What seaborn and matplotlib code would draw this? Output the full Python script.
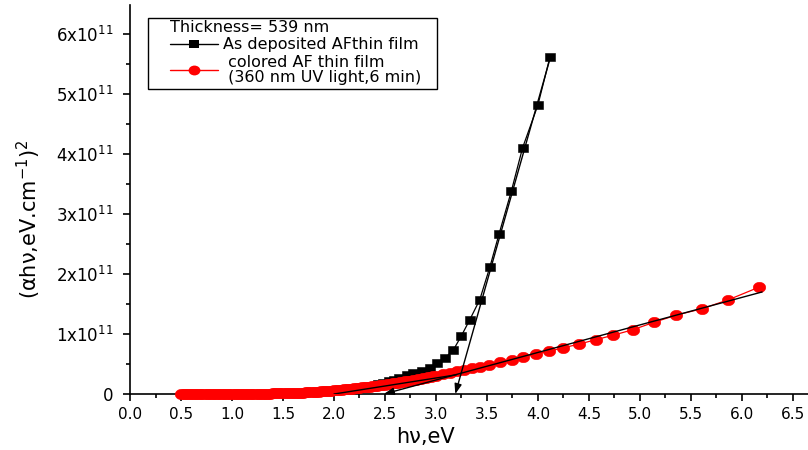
import matplotlib
matplotlib.use("Agg")
import matplotlib.pyplot as plt
from matplotlib.lines import Line2D
from matplotlib.patches import Rectangle
from matplotlib.path import Path
from matplotlib.transforms import Affine2D
from matplotlib.ticker import MultipleLocator, FuncFormatter
import seaborn as sns
import pandas as pd

# Photon energy (eV) and (alpha*h*nu)^2 in units of 1e11 (eV.cm^-1)^2
deposited_energy = [2.43, 2.48, 2.54, 2.59, 2.64, 2.72, 2.78, 2.86, 2.94, 3.01,
                    3.09, 3.17, 3.25, 3.33, 3.43, 3.53, 3.62, 3.74, 3.85, 4.00, 4.12]
deposited_value = [0.16, 0.18, 0.21, 0.23, 0.26, 0.31, 0.35, 0.38, 0.43, 0.52,
                   0.60, 0.73, 0.97, 1.23, 1.57, 2.12, 2.67, 3.38, 4.10, 4.81, 5.62]

colored_energy = [0.500, 0.525, 0.550, 0.575, 0.600, 0.625, 0.650, 0.675, 0.700, 0.725,
                  0.750, 0.775, 0.800, 0.825, 0.850, 0.875, 0.900, 0.925, 0.950, 0.975,
                  1.000, 1.025, 1.050, 1.075, 1.100, 1.125, 1.150, 1.175, 1.200, 1.225,
                  1.250, 1.275, 1.300, 1.325, 1.350, 1.375, 1.400, 1.425, 1.450, 1.475,
                  1.500, 1.525, 1.550, 1.575, 1.600, 1.625, 1.650, 1.675, 1.700, 1.725,
                  1.750, 1.775, 1.800, 1.825, 1.850, 1.875, 1.900, 1.925, 1.950, 1.975,
                  2.000, 2.025, 2.050, 2.075, 2.100, 2.125, 2.150, 2.175, 2.200, 2.225,
                  2.250, 2.275, 2.300, 2.325, 2.350, 2.375, 2.400, 2.425, 2.450, 2.475,
                  2.500, 2.525, 2.550, 2.575, 2.600, 2.625, 2.650, 2.675, 2.700, 2.725,
                  2.750, 2.775, 2.800, 2.825, 2.850, 2.875, 2.900, 2.925, 2.950, 2.975,
                  3.000, 3.07, 3.14, 3.21, 3.28, 3.35, 3.43, 3.52, 3.63, 3.75,
                  3.85, 3.98, 4.11, 4.25, 4.40, 4.57, 4.74, 4.93, 5.14, 5.36,
                  5.61, 5.87, 6.17]
colored_value = [0.000, 0.000, 0.000, 0.000, 0.000, 0.000, 0.000, 0.000, 0.000, 0.000,
                 0.000, 0.000, 0.000, 0.000, 0.000, 0.001, 0.001, 0.001, 0.001, 0.001,
                 0.001, 0.002, 0.002, 0.002, 0.002, 0.003, 0.003, 0.004, 0.004, 0.005,
                 0.005, 0.006, 0.006, 0.007, 0.007, 0.008, 0.009, 0.010, 0.011, 0.012,
                 0.013, 0.014, 0.015, 0.017, 0.018, 0.020, 0.021, 0.023, 0.025, 0.027,
                 0.029, 0.031, 0.034, 0.037, 0.040, 0.043, 0.046, 0.050, 0.053, 0.057,
                 0.060, 0.064, 0.068, 0.072, 0.076, 0.080, 0.085, 0.089, 0.094, 0.099,
                 0.104, 0.109, 0.114, 0.119, 0.124, 0.129, 0.135, 0.140, 0.146, 0.151,
                 0.157, 0.163, 0.170, 0.176, 0.182, 0.189, 0.196, 0.203, 0.210, 0.217,
                 0.225, 0.232, 0.240, 0.248, 0.256, 0.264, 0.272, 0.281, 0.290, 0.299,
                 0.308, 0.332, 0.356, 0.380, 0.404, 0.428, 0.452, 0.485, 0.525, 0.570,
                 0.615, 0.665, 0.715, 0.770, 0.830, 0.905, 0.980, 1.070, 1.195, 1.315,
                 1.420, 1.570, 1.780]

# Linear extrapolations to the energy axis (eV, 1e11 units)
deposited_fit_energy = [4.13, 3.19]
deposited_fit_value = [5.65, 0.0]
colored_fit_energy = [6.20, 2.49]
colored_fit_value = [1.70, 0.0]
onset_energy = [2.00, 3.20]
onset_value = [0.0, 0.32]

series_labels = ["As deposited AFthin film",
                 " colored AF thin film\n (360 nm UV light,6 min)"]
legend_title = "Thickness= 539 nm"

SCALE = 1e11

sns.set_theme(style="ticks")
plt.rcParams["font.family"] = ["DejaVu Sans"]
plt.rcParams["mathtext.fontset"] = "dejavusans"
plt.rcParams["axes.linewidth"] = 1.2
plt.rcParams["text.color"] = "black"
plt.rcParams["axes.labelcolor"] = "black"
plt.rcParams["xtick.color"] = "black"
plt.rcParams["ytick.color"] = "black"
plt.rcParams["axes.edgecolor"] = "black"

# slightly wide markers: flat rectangle and ellipse
rect_marker = Path([(-1.33, -1.0), (1.33, -1.0), (1.33, 1.0), (-1.33, 1.0), (-1.33, -1.0)],
                   [Path.MOVETO, Path.LINETO, Path.LINETO, Path.LINETO, Path.CLOSEPOLY])
oval_marker = Path.unit_circle().transformed(Affine2D().scale(1.2, 1.0))

fig = plt.figure(figsize=(8.08, 4.5), dpi=100)
ax = fig.add_axes([0.161, 0.1244, 0.839, 0.8646])

df_dep = pd.DataFrame({"E": deposited_energy,
                       "v": [v * SCALE for v in deposited_value]})
df_col = pd.DataFrame({"E": colored_energy,
                       "v": [v * SCALE for v in colored_value]})

sns.lineplot(data=df_dep, x="E", y="v", ax=ax, color="black", linewidth=0.9,
             marker=rect_marker, markersize=7.4, markeredgewidth=0.4,
             markeredgecolor="black", sort=False, clip_on=False, zorder=3)
sns.lineplot(data=df_col, x="E", y="v", ax=ax, color="red", linewidth=0.9,
             marker=oval_marker, markersize=9.0, markeredgewidth=0.4,
             markeredgecolor="red", sort=False, clip_on=False, zorder=4)

# fitted straight lines with arrow heads on the energy axis
for ex, ev in ((deposited_fit_energy, deposited_fit_value),
               (colored_fit_energy, colored_fit_value)):
    ax.annotate("", xy=(ex[1], ev[1] * SCALE), xytext=(ex[0], ev[0] * SCALE),
                arrowprops=dict(arrowstyle="-|>,head_length=0.5,head_width=0.18",
                                color="black", lw=1.0, shrinkA=0, shrinkB=0),
                zorder=6, annotation_clip=False)
ax.plot(onset_energy, [v * SCALE for v in onset_value], color="black",
        linewidth=1.0, zorder=5)

ax.set_xlim(0, 6.65)
ax.set_ylim(0, 6.48 * SCALE)
ax.xaxis.set_major_locator(MultipleLocator(0.5))
ax.xaxis.set_minor_locator(MultipleLocator(0.25))
ax.yaxis.set_major_locator(MultipleLocator(1 * SCALE))
ax.yaxis.set_minor_locator(MultipleLocator(0.5 * SCALE))
ax.xaxis.set_major_formatter(FuncFormatter(lambda v, p: f"{v:.1f}"))
ax.yaxis.set_major_formatter(FuncFormatter(
    lambda v, p: "0" if abs(v) < 1 else rf"{int(round(v / SCALE))}x10$^{{11}}$"))
ax.tick_params(axis="both", which="major", direction="out", length=5, width=1.2,
               colors="black")
ax.tick_params(axis="x", which="major", pad=4, labelsize=11)
ax.tick_params(axis="y", which="major", pad=7, labelsize=12)
ax.tick_params(axis="both", which="minor", direction="out", length=3, width=1.2)
sns.despine(ax=ax)

ax.set_xlabel("hν,eV", fontsize=15, color="black")
ax.xaxis.set_label_coords(0.435, -0.084)
ax.set_ylabel("(αhν,eV.cm$^{-1}$)$^{2}$", fontsize=15, color="black")
ax.yaxis.set_label_coords(-0.128, 0.45)

handles = [Line2D([], [], color="black", linewidth=1.0, marker=rect_marker,
                  markersize=7, markeredgewidth=0),
           Line2D([], [], color="red", linewidth=1.0, marker=oval_marker,
                  markersize=8.5, markeredgewidth=0)]
leg = ax.legend(handles, series_labels, title=legend_title, loc="upper left",
                bbox_to_anchor=(0.2104, 0.956), bbox_transform=fig.transFigure,
                fontsize=11.5, title_fontsize=11.5, frameon=False, borderaxespad=0,
                borderpad=0, handlelength=3.0, handletextpad=0.3,
                labelspacing=0.15, alignment="left", labelcolor="black")
leg.get_title().set_color("black")
for txt in leg.get_texts():
    txt.set_linespacing(1.06)
fig.patches.append(Rectangle((0.183, 0.802), 0.358, 0.158, transform=fig.transFigure,
                             fill=False, edgecolor="black", linewidth=1.0, zorder=10))

fig.savefig("out.png", dpi=100)
